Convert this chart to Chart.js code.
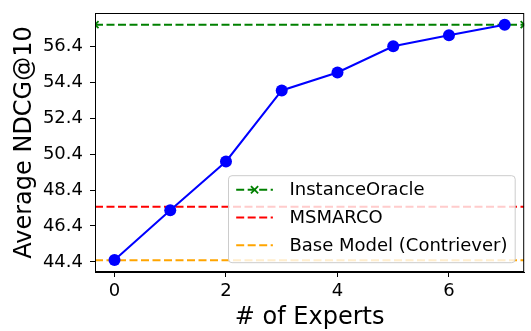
<!DOCTYPE html>
<html>
<head>
<meta charset="utf-8">
<script src="https://cdn.jsdelivr.net/npm/chart.js@4"></script>
<style>
  html, body { margin: 0; padding: 0; background: #fff; }
</style>
</head>
<body>
<canvas id="chart" width="531" height="331"></canvas>
<script>
const experts = [0, 1, 2, 3, 4, 5, 6, 7];
const ndcg = [44.51, 47.27, 49.99, 53.94, 54.94, 56.40, 57.01, 57.60];
const instanceOracle = 57.60;
const msmarco = 47.47;
const baseModel = 44.49;
const xTicks = [0, 2, 4, 6];
const yTicks = [44.4, 46.4, 48.4, 50.4, 52.4, 54.4, 56.4];
const xRange = [-0.35, 7.35];
const yRange = [43.84, 58.25];

const FONT = "'DejaVu Sans', sans-serif";
const dash = [8, 3.5];

const hline = (label, y, color, marker) => ({
  label: label,
  data: xRange.map(x => ({ x: x, y: y })),
  borderColor: color,
  backgroundColor: color,
  borderWidth: 2,
  borderDash: dash,
  pointStyle: marker ? 'crossRot' : false,
  pointRadius: marker ? 5 : 0,
  pointBorderWidth: 1.8,
  pointBorderColor: color,
  showLegend: true
});

// matplotlib style legend, lower right inside the axes
const legendBox = {
  id: 'legendBox',
  afterDatasetsDraw(chart) {
    const { ctx, chartArea } = chart;
    const items = chart.data.datasets.filter(d => d.showLegend);
    ctx.save();
    ctx.font = '18px ' + FONT;
    const textW = Math.max(...items.map(d => ctx.measureText(d.label).width));
    const pad = 7.7, handle = 36.7, gap = 16.6, rowH = 27.8;
    const right = chartArea.right - 9;
    const bottom = chartArea.bottom - 9.3;
    const w = pad + handle + gap + textW + pad;
    const h = 87;
    const left = right - w, top = bottom - h;

    ctx.beginPath();
    ctx.roundRect(left, top, w, h, 3.5);
    ctx.fillStyle = 'rgba(255,255,255,0.8)';
    ctx.fill();
    ctx.strokeStyle = '#cccccc';
    ctx.lineWidth = 1;
    ctx.stroke();

    items.forEach((d, i) => {
      const cy = top + 14 + i * rowH;
      const hx = left + pad;
      ctx.beginPath();
      ctx.setLineDash(d.borderDash);
      ctx.strokeStyle = d.borderColor;
      ctx.lineWidth = d.borderWidth;
      ctx.moveTo(hx, cy);
      ctx.lineTo(hx + handle, cy);
      ctx.stroke();
      ctx.setLineDash([]);
      if (d.pointStyle) {
        const mx = hx + handle / 2, r = 3.6;
        ctx.lineWidth = d.pointBorderWidth;
        ctx.beginPath();
        ctx.moveTo(mx - r, cy - r); ctx.lineTo(mx + r, cy + r);
        ctx.moveTo(mx - r, cy + r); ctx.lineTo(mx + r, cy - r);
        ctx.stroke();
      }
      ctx.fillStyle = '#000';
      ctx.textBaseline = 'middle';
      ctx.textAlign = 'left';
      ctx.fillText(d.label, hx + handle + gap, cy + 1);
    });
    ctx.restore();
  },
  afterDraw(chart) {
    const { ctx, chartArea: a } = chart;
    ctx.save();
    ctx.strokeStyle = '#000';
    ctx.lineWidth = 1;
    ctx.strokeRect(a.left + 0.5, a.top + 0.5, a.right - a.left - 1, a.bottom - a.top - 1);
    ctx.restore();
  }
};

new Chart(document.getElementById('chart'), {
  type: 'line',
  data: {
    datasets: [
      {
        label: 'experts',
        data: experts.map((x, i) => ({ x: x, y: ndcg[i] })),
        borderColor: '#0000ff',
        backgroundColor: '#0000ff',
        borderWidth: 2,
        pointRadius: 6,
        pointBorderWidth: 0,
        tension: 0
      },
      hline('InstanceOracle', instanceOracle, '#008000', true),
      hline('MSMARCO', msmarco, '#ff0000', false),
      hline('Base Model (Contriever)', baseModel, '#ffa500', false)
    ]
  },
  options: {
    responsive: false,
    animation: false,
    devicePixelRatio: 1,
    layout: { padding: { top: 13, right: 1, left: 0, bottom: 0 } },
    plugins: { legend: { display: false }, tooltip: { enabled: false } },
    scales: {
      x: {
        type: 'linear',
        min: xRange[0],
        max: xRange[1],
        afterBuildTicks: s => { s.ticks = xTicks.map(v => ({ value: v })); },
        afterFit: s => { s.height = 59; s.paddingLeft = 0; s.paddingRight = 0; },
        ticks: { color: '#000', font: { family: FONT, size: 18 }, padding: 4, callback: v => String(v) },
        grid: { drawOnChartArea: false, tickLength: 5, color: '#000' },
        border: { display: true, color: '#000' },
        title: {
          display: true, text: '# of Experts', color: '#000',
          font: { family: FONT, size: 24, lineHeight: 1 }, padding: { top: 0, bottom: 1 }
        }
      },
      y: {
        min: yRange[0],
        max: yRange[1],
        afterBuildTicks: s => { s.ticks = yTicks.map(v => ({ value: v })); },
        afterFit: s => { s.width = 95; s.paddingTop = 0; s.paddingBottom = 0; },
        ticks: { color: '#000', font: { family: FONT, size: 18 }, padding: 7, callback: v => v.toFixed(1) },
        grid: { drawOnChartArea: false, tickLength: 5, color: '#000' },
        border: { display: true, color: '#000' },
        title: {
          display: true, text: 'Average NDCG@10', color: '#000',
          font: { family: FONT, size: 24, lineHeight: 1 }, padding: { top: 12.5, bottom: 0 }
        }
      }
    }
  },
  plugins: [legendBox]
});
</script>
</body>
</html>
